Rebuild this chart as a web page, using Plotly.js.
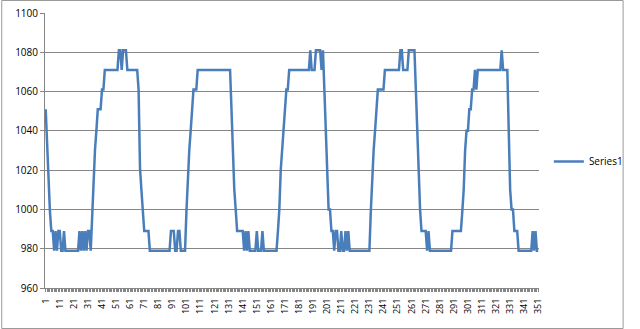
<!DOCTYPE html>
<html><head><meta charset="utf-8">
<script src="https://cdn.plot.ly/plotly-3.0.1.min.js"></script>
<style>html,body{margin:0;padding:0;background:#fff}#chart{width:640px;height:329px}</style>
</head><body><div id="chart"></div>
<script>
const seriesName = "Series1";
const series1 = [
1051,1030,1010,999,989,989,979,989,979,989,
989,979,979,989,979,979,979,979,979,979,
979,979,979,979,989,979,989,979,989,979,
989,989,979,999,1020,1030,1040,1051,1051,1051,
1061,1061,1071,1071,1071,1071,1071,1071,1071,1071,
1071,1071,1081,1081,1071,1081,1081,1081,1071,1071,
1071,1071,1071,1071,1071,1071,1061,1021,1010,1000,
989,989,989,989,979,979,979,979,979,979,
979,979,979,979,979,979,979,979,979,989,
989,989,979,979,989,989,979,979,979,979,
999,1020,1030,1040,1051,1061,1061,1061,1071,1071,
1071,1071,1071,1071,1071,1071,1071,1071,1071,1071,
1071,1071,1071,1071,1071,1071,1071,1071,1071,1071,
1071,1071,1051,1030,1010,1000,989,989,989,989,
989,979,989,979,989,979,979,979,979,979,
989,979,979,979,989,979,979,979,979,979,
979,979,979,979,979,989,1000,1020,1030,1040,
1051,1061,1061,1071,1071,1071,1071,1071,1071,1071,
1071,1071,1071,1071,1071,1071,1071,1071,1081,1071,
1071,1071,1081,1081,1081,1081,1071,1081,1061,1040,
1020,1000,1000,989,989,979,989,989,979,979,
989,979,979,989,979,989,979,979,979,979,
979,979,979,979,979,979,979,979,979,979,
979,999,1020,1030,1040,1051,1061,1061,1061,1061,
1061,1071,1071,1071,1071,1071,1071,1071,1071,1071,
1071,1071,1081,1081,1071,1071,1071,1071,1081,1081,
1081,1081,1081,1061,1040,1020,1000,989,989,989,
989,979,989,979,979,979,979,979,979,979,
979,979,979,979,979,979,979,979,979,989,
989,989,989,989,989,989,999,1010,1030,1040,
1040,1051,1051,1061,1061,1071,1061,1071,1071,1071,
1071,1071,1071,1071,1071,1071,1071,1071,1071,1071,
1071,1071,1071,1071,1081,1071,1071,1071,1071,1040,
1010,1000,1000,989,989,989,979,979,979,979,
979,979,979,979,979,979,989,979,989,979,
979
];
const categories = series1.map((v, i) => String(i + 1));
const tickLabels = ["1","11","21","31","41","51","61","71","81","91","101","111","121","131","141","151","161","171","181","191","201","211","221","231","241","251","261","271","281","291","301","311","321","331","341","351"];
const yTicks = [960,980,1000,1020,1040,1060,1080,1100];

const ticktext = categories.map(c => tickLabels.includes(c) ? c : "");

const trace = {
  x: categories, y: series1, type: "scatter", mode: "lines", name: seriesName,
  line: {color: "#4a7ebb", width: 2.5}
};
const font = {family: "Open Sans, Liberation Sans, sans-serif", size: 10, color: "#000"};
const layout = {
  width: 640, height: 329,
  margin: {l: 45, r: 87, t: 13, b: 41, pad: 0},
  paper_bgcolor: "#fff", plot_bgcolor: "#fff",
  font: font,
  showlegend: true,
  legend: {x: 1.02, xanchor: "left", y: 0.46, yanchor: "middle", font: {family: "Open Sans, sans-serif", size: 10, color: "#000"}, bgcolor: "rgba(0,0,0,0)", itemwidth: 30},
  xaxis: {
    type: "category", tickmode: "array", tickvals: categories, ticktext: ticktext,
    tickangle: -90, tickfont: {family: "Open Sans, sans-serif", size: 9, color: "#000"},
    ticks: "outside", ticklen: 3, tickcolor: "#868686", tickwidth: 1, ticklabelstandoff: 3,
    showgrid: false, showline: true, linecolor: "#868686", linewidth: 1,
    range: [-0.5, categories.length - 0.5], zeroline: false, automargin: false
  },
  yaxis: {
    range: [960, 1100], tickmode: "array", tickvals: yTicks,
    tickfont: {family: "Open Sans, sans-serif", size: 10, color: "#000"},
    ticks: "outside", ticklen: 4, tickcolor: "#868686",
    showgrid: true, gridcolor: "#868686", gridwidth: 1,
    showline: true, linecolor: "#868686", linewidth: 1, zeroline: false, automargin: false
  },
  shapes: [{
    type: "rect", xref: "paper", yref: "paper",
    x0: (0.5 - 45) / 508, x1: (639.5 - 45) / 508,
    y0: (288 - 328.5) / 275, y1: (288 - 0.5) / 275,
    line: {color: "#9a9a9a", width: 1}, fillcolor: "rgba(0,0,0,0)", layer: "below"
  }]
};
Plotly.newPlot("chart", [trace], layout, {staticPlot: true, displayModeBar: false});
</script>
</body></html>
